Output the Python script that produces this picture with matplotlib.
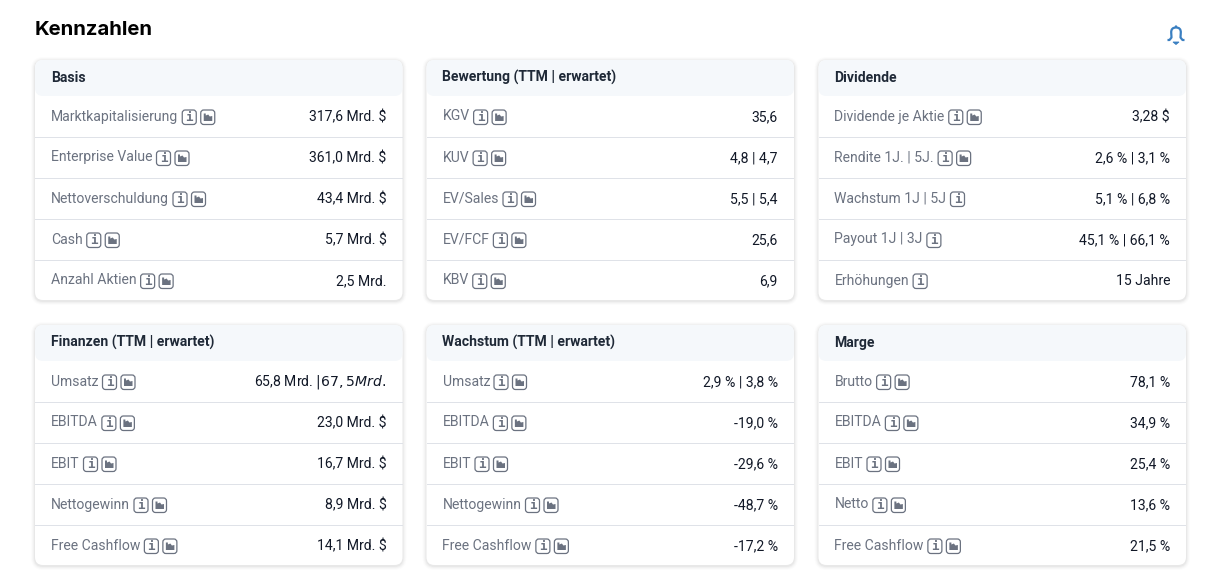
import matplotlib
matplotlib.use("Agg")
import matplotlib.pyplot as plt
from matplotlib.patches import FancyBboxPatch, Rectangle, Polygon, PathPatch, Circle
from matplotlib.path import Path

plt.rcParams['font.family'] = ['Roboto', 'DejaVu Sans']

TITLE = "Kennzahlen"

# header, labels, values, icons per row (i = info, c = chart)
basis_labels = ["Marktkapitalisierung", "Enterprise Value", "Nettoverschuldung", "Cash", "Anzahl Aktien"]
basis_values = ["317,6 Mrd. $", "361,0 Mrd. $", "43,4 Mrd. $", "5,7 Mrd. $", "2,5 Mrd."]
bewertung_labels = ["KGV", "KUV", "EV/Sales", "EV/FCF", "KBV"]
bewertung_values = ["35,6", "4,8 | 4,7", "5,5 | 5,4", "25,6", "6,9"]
dividende_labels = ["Dividende je Aktie", "Rendite 1J. | 5J.", "Wachstum 1J | 5J", "Payout 1J | 3J", "Erhöhungen"]
dividende_values = ["3,28 $", "2,6 % | 3,1 %", "5,1 % | 6,8 %", "45,1 % | 66,1 %", "15 Jahre"]
dividende_icons = ["ic", "ic", "i", "i", "i"]
finanzen_labels = ["Umsatz", "EBITDA", "EBIT", "Nettogewinn", "Free Cashflow"]
finanzen_values = ["65,8 Mrd. $ | 67,5 Mrd. $", "23,0 Mrd. $", "16,7 Mrd. $", "8,9 Mrd. $", "14,1 Mrd. $"]
wachstum_values = ["2,9 % | 3,8 %", "-19,0 %", "-29,6 %", "-48,7 %", "-17,2 %"]
marge_labels = ["Brutto", "EBITDA", "EBIT", "Netto", "Free Cashflow"]
marge_values = ["78,1 %", "34,9 %", "25,4 %", "13,6 %", "21,5 %"]
both = ["ic"] * 5

cards = [
    ("Basis", basis_labels, basis_values, both, 35, 60),
    ("Bewertung (TTM | erwartet)", bewertung_labels, bewertung_values, both, 426.5, 60),
    ("Dividende", dividende_labels, dividende_values, dividende_icons, 818.5, 60),
    ("Finanzen (TTM | erwartet)", finanzen_labels, finanzen_values, both, 35, 325),
    ("Wachstum (TTM | erwartet)", finanzen_labels, wachstum_values, both, 426.5, 325),
    ("Marge", marge_labels, marge_values, both, 818.5, 325),
]

CARD_W = 367.5
CARD_H = 240
HEAD_H = 36
ROW_H = 41
ICON_COL = "#6b7280"

fig = plt.figure(figsize=(12.16, 5.77), dpi=100, facecolor="white")
ax = fig.add_axes([0, 0, 1, 1])
ax.set_xlim(0, 1216)
ax.set_ylim(577, 0)
ax.axis("off")
renderer = fig.canvas.get_renderer()


def rounded(x, y, w, h, r, **kw):
    p = FancyBboxPatch((x + r, y + r), w - 2 * r, h - 2 * r,
                       boxstyle=f"round,pad={r},rounding_size={r}", **kw)
    ax.add_patch(p)
    return p


def info_icon(x, y):
    rounded(x, y - 7, 14, 14.5, 3, fc="white", ec=ICON_COL, lw=0.9, zorder=4)
    ax.text(x + 7, y + 0.3, "i", fontsize=9, family="DejaVu Sans Mono", weight="bold",
            color=ICON_COL, ha="center", va="center", zorder=5)


def chart_icon(x, y):
    rounded(x, y - 7, 14, 14.5, 3, fc="white", ec=ICON_COL, lw=0.9, zorder=4)
    ax.add_patch(Polygon([(x + 3, y + 4), (x + 3, y - 3.5), (x + 5, y - 3.5), (x + 5, y - 1.5),
                          (x + 7.5, y - 2.5), (x + 9, y - 0.5), (x + 11.5, y - 1),
                          (x + 11.5, y + 4)],
                         closed=True, fc=ICON_COL, ec="none", zorder=5))


def bell(cx, cy):
    col = "#3a7fc1"
    verts = [(cx - 6.5, cy + 5.5), (cx - 4.5, cy + 3), (cx - 4.8, cy - 2), (cx - 5, cy - 7), (cx, cy - 7),
             (cx + 5, cy - 7), (cx + 4.8, cy - 2), (cx + 4.5, cy + 3), (cx + 6.5, cy + 5.5),
             (cx + 8.5, cy + 5.5)]
    verts = [(cx - 8.5, cy + 5.5)] + verts
    codes = [Path.MOVETO, Path.LINETO, Path.LINETO, Path.LINETO, Path.CURVE3, Path.CURVE3,
             Path.CURVE3, Path.CURVE3, Path.LINETO, Path.LINETO, Path.LINETO]
    ax.add_patch(PathPatch(Path(verts, codes), fc="none", ec=col, lw=1.6, zorder=5, joinstyle="round"))
    ax.add_patch(Circle((cx, cy - 8), 1.2, fc=col, ec="none", zorder=5))
    ax.add_patch(Polygon([(cx - 3, cy + 7.5), (cx + 3, cy + 7.5), (cx, cy + 10)],
                         closed=True, fc=col, ec=col, lw=0.6, zorder=5))


ax.text(34.5, 30, TITLE, fontsize=14.6, family="Inter", weight="bold", color="black", va="center")
bell(1176, 34.5)

for header, labels, values, icons, x0, y0 in cards:
    # soft shadow
    for grow, alpha in ((4, 0.012), (3, 0.018), (2, 0.025), (1, 0.035)):
        rounded(x0 - grow, y0 - grow + 1, CARD_W + 2 * grow, CARD_H + 2 * grow, 8 + grow,
                fc="black", ec="none", alpha=alpha, zorder=1)
    rounded(x0, y0, CARD_W, CARD_H, 8, fc="white", ec="none", zorder=2)
    rounded(x0, y0, CARD_W, HEAD_H, 8, fc="#f5f8fb", ec="none", zorder=3)

    ax.text(x0 + 16, y0 + 17.5, header, fontsize=10.1, weight="bold", color="#1f2937", va="center", zorder=5)

    for i, (label, value, ic) in enumerate(zip(labels, values, icons)):
        yc = y0 + HEAD_H + 21 + i * ROW_H
        if i < len(labels) - 1:
            line_y = y0 + HEAD_H + (i + 1) * ROW_H - 0.5
            ax.add_patch(Rectangle((x0, line_y), CARD_W, 1, fc="#dfe2e8", ec="none", zorder=3))
        t = ax.text(x0 + 16, yc - 0.5, label, fontsize=10.1, color="#6b7280", va="center", zorder=5)
        end = t.get_window_extent(renderer).x1
        info_icon(end + 4, yc)
        if "c" in ic:
            chart_icon(end + 22.5, yc)
        ax.text(x0 + CARD_W - 16, yc, value, fontsize=10.1, color="#111827", va="center", ha="right", zorder=5)

fig.savefig("out.png", dpi=100, facecolor="white")
